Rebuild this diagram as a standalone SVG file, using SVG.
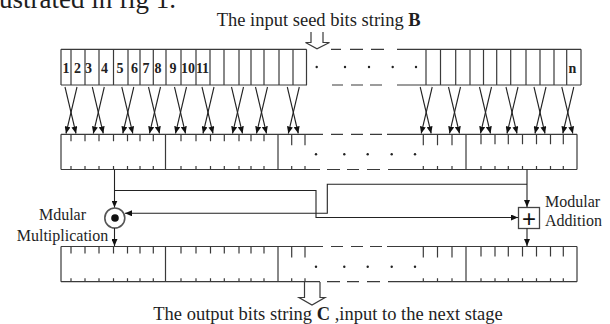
<svg xmlns="http://www.w3.org/2000/svg" width="610" height="324" viewBox="0 0 610 324">
<defs>
<marker id="ah" markerWidth="7" markerHeight="6" refX="7" refY="3" orient="auto" markerUnits="userSpaceOnUse"><path d="M0,0 L7,3 L0,6 z" fill="#111"/></marker>
<style>
.ln{stroke:#3a3a3a;stroke-width:1.2;fill:none}
.cn{stroke:#222;stroke-width:1.1;fill:none}
.ar{marker-end:url(#ah)}
.t{font-family:"Liberation Serif","Times New Roman",serif;fill:#1e1e1e}
.num{font-family:"Liberation Serif","Times New Roman",serif;font-weight:bold;font-size:14px;fill:#222;text-anchor:middle}
.dot{fill:#222}
</style>
</defs>
<rect width="610" height="324" fill="#fff"/>
<text class="t" x="176" y="7.5" font-size="27" text-anchor="end">ustrated in fig 1.</text>

<g id="input-label">
<text class="t" x="216.7" y="26" font-size="18.5">The input seed bits string <tspan font-weight="bold">B</tspan></text>
<path class="ln" d="M311,32 V42.5 H305.5 L317,48.8 L329.5,42.5 H323 V32"/>
</g>

<g id="row-input">
<path class="ln" d="M61,49.3 H306.5 M331,49.3 H341 M350,49.3 H363 M371,49.3 H384 M397,49.3 H581 M61,85 H307 M332,85 H343 M351,85 H363 M370,85 H382 M397,85 H581 M61,49.3 V85 M581,49.3 V85"/>
<path class="ln" d="M71,49.3V85 M85,49.3V85 M99,49.3V85 M113.5,49.3V85 M128,49.3V85 M140,49.3V85 M153.3,49.3V85 M166,49.3V85 M181,49.3V85 M196,49.3V85 M210,49.3V85 M224,49.3V85 M239,49.3V85 M251,49.3V85 M264,49.3V85 M279,49.3V85 M293,49.3V85 M306.5,49.3V85 M426,49.3V85 M440.5,49.3V85 M455.7,49.3V85 M470,49.3V85 M483.5,49.3V85 M496.7,49.3V85 M510.7,49.3V85 M526,49.3V85 M540,49.3V85 M554,49.3V85 M566.7,49.3V85"/>
<text class="num" x="66" y="73">1</text>
<text class="num" x="77.5" y="73">2</text>
<text class="num" x="88.5" y="73">3</text>
<text class="num" x="104.5" y="73">4</text>
<text class="num" x="120" y="73">5</text>
<text class="num" x="134.5" y="73">6</text>
<text class="num" x="146" y="73">7</text>
<text class="num" x="158" y="73">8</text>
<text class="num" x="173" y="73">9</text>
<text class="num" x="188" y="73">10</text>
<text class="num" x="202.5" y="73">11</text>
<text class="num" x="572.5" y="73">n</text>
<circle class="dot" cx="316.7" cy="67" r="1.2"/><circle class="dot" cx="345" cy="67" r="1.2"/><circle class="dot" cx="369" cy="67" r="1.2"/><circle class="dot" cx="392.7" cy="67" r="1.2"/><circle class="dot" cx="416" cy="67" r="1.2"/>
</g>

<g id="row-permuted">
<path class="ln" d="M61,134.3 H323 M331,134.3 H343 M351,134.3 H363 M370,134.3 H382 M387,134.3 H577 M61,169.5 H320 M327,169.5 H340 M347,169.5 H359 M367,169.5 H380 M388,169.5 H577 M61,134.3 V169.5 M577,134.3 V169.5 M165.5,134.3 V169.5 M278,134.3 V169.5 M466,134.3 V169.5"/>
<path class="ln" d="M71,134.3v7 M85,134.3v7 M99,134.3v7 M113.5,134.3v7 M127.5,134.3v7 M140,134.3v7 M153.3,134.3v7 M181,134.3v7 M196,134.3v7 M210.5,134.3v7 M224.3,134.3v7 M239,134.3v7 M251,134.3v7 M264,134.3v7 M291.7,134.3v11 M305,134.3v11 M423.3,134.3v11 M437.5,134.3v11 M452,134.3v11 M481,134.3v10 M495,134.3v10 M508.3,134.3v10 M522.5,134.3v10 M536.5,134.3v10 M550.5,134.3v10 M563.3,134.3v10"/>
<path class="ln" d="M71,169.5v-3.5 M85,169.5v-3.5 M99,169.5v-3.5 M113.5,169.5v-3.5 M127.5,169.5v-3.5 M140,169.5v-3.5 M153.3,169.5v-3.5 M181,169.5v-3.5 M196,169.5v-3.5 M210.5,169.5v-3.5 M224.3,169.5v-3.5 M239,169.5v-3.5 M251,169.5v-3.5 M264,169.5v-3.5 M291.7,169.5v-3.5 M305,169.5v-3.5 M423.3,169.5v-3.5 M437.5,169.5v-3.5 M452,169.5v-3.5 M481,169.5v-3.5 M495,169.5v-3.5 M508.3,169.5v-3.5 M522.5,169.5v-3.5 M536.5,169.5v-3.5 M550.5,169.5v-3.5 M563.3,169.5v-3.5"/>
<circle class="dot" cx="316" cy="154.3" r="1.2"/><circle class="dot" cx="344.3" cy="154.3" r="1.2"/><circle class="dot" cx="367.7" cy="154.3" r="1.2"/><circle class="dot" cx="391.7" cy="154.3" r="1.2"/><circle class="dot" cx="415" cy="154.3" r="1.2"/>
</g>

<g id="row-output">
<path class="ln" d="M61,246.5 H323 M331,246.5 H343 M351,246.5 H363 M370,246.5 H382 M387,246.5 H577 M61,281.7 H320 M327,281.7 H340 M347,281.7 H359 M367,281.7 H380 M388,281.7 H577 M61,246.5 V281.7 M577,246.5 V281.7 M165.5,246.5 V281.7 M278,246.5 V281.7 M466,246.5 V281.7"/>
<path class="ln" d="M71,246.5v7 M85,246.5v7 M99,246.5v7 M113.5,246.5v7 M127.5,246.5v7 M140,246.5v7 M153.3,246.5v7 M181,246.5v7 M196,246.5v7 M210.5,246.5v7 M224.3,246.5v7 M239,246.5v7 M251,246.5v7 M264,246.5v7 M291.7,246.5v11 M305,246.5v11 M423.3,246.5v11 M437.5,246.5v11 M452,246.5v11 M481,246.5v10 M495,246.5v10 M508.3,246.5v10 M522.5,246.5v10 M536.5,246.5v10 M550.5,246.5v10 M563.3,246.5v10"/>
<path class="ln" d="M71,281.7v-3.5 M85,281.7v-3.5 M99,281.7v-3.5 M113.5,281.7v-3.5 M127.5,281.7v-3.5 M140,281.7v-3.5 M153.3,281.7v-3.5 M181,281.7v-3.5 M196,281.7v-3.5 M210.5,281.7v-3.5 M224.3,281.7v-3.5 M239,281.7v-3.5 M251,281.7v-3.5 M264,281.7v-3.5 M291.7,281.7v-3.5 M305,281.7v-3.5 M423.3,281.7v-3.5 M437.5,281.7v-3.5 M452,281.7v-3.5 M481,281.7v-3.5 M495,281.7v-3.5 M508.3,281.7v-3.5 M522.5,281.7v-3.5 M536.5,281.7v-3.5 M550.5,281.7v-3.5 M563.3,281.7v-3.5"/>
<circle class="dot" cx="316" cy="266.7" r="1.2"/><circle class="dot" cx="344.3" cy="266.7" r="1.2"/><circle class="dot" cx="367.7" cy="266.7" r="1.2"/><circle class="dot" cx="391.7" cy="266.7" r="1.2"/><circle class="dot" cx="415" cy="266.7" r="1.2"/>
</g>

<g id="mult">
<circle cx="114.8" cy="218" r="10" fill="#fff" stroke="#555" stroke-width="1.6"/>
<circle cx="115" cy="218" r="3.8" fill="#111"/>
<text class="t" x="62.5" y="219.5" font-size="16" text-anchor="middle">Mdular</text>
<text class="t" x="62.5" y="240.5" font-size="16" text-anchor="middle">Multiplication</text>
</g>

<g id="add">
<rect x="518.5" y="207.5" width="21" height="21" fill="#fff" stroke="#444" stroke-width="1.3"/>
<text x="529" y="227" font-family="Liberation Sans, Arial, sans-serif" font-size="24" text-anchor="middle" fill="#111">+</text>
<text class="t" x="545" y="207" font-size="16">Modular</text>
<text class="t" x="545" y="226" font-size="16">Addition</text>
</g>

<g id="output-label">
<path class="ln" d="M304.5,282 V297.5 H299 L312,305 L325,297.5 H320 V282"/>
<text class="t" x="153.3" y="319.5" font-size="18.5">The output bits string <tspan font-weight="bold">C</tspan> ,input to the next stage</text>
</g>

<g id="connectors">
<path class="cn ar" d="M65,87 L76,133.5"/><path class="cn ar" d="M77,87 L66,133.5"/>
<path class="cn ar" d="M92.3,87 L103.3,133.5"/><path class="cn ar" d="M104.3,87 L93.3,133.5"/>
<path class="cn ar" d="M121.8,87 L132.8,133.5"/><path class="cn ar" d="M133.8,87 L122.8,133.5"/>
<path class="cn ar" d="M148.5,87 L159.5,133.5"/><path class="cn ar" d="M160.5,87 L149.5,133.5"/>
<path class="cn ar" d="M174.5,87 L185.5,133.5"/><path class="cn ar" d="M186.5,87 L175.5,133.5"/>
<path class="cn ar" d="M202,87 L213,133.5"/><path class="cn ar" d="M214,87 L203,133.5"/>
<path class="cn ar" d="M231.5,87 L242.5,133.5"/><path class="cn ar" d="M243.5,87 L232.5,133.5"/>
<path class="cn ar" d="M255.5,87 L266.5,133.5"/><path class="cn ar" d="M267.5,87 L256.5,133.5"/>
<path class="cn ar" d="M287.3,87 L298.3,133.5"/><path class="cn ar" d="M299.3,87 L288.3,133.5"/>
<path class="cn ar" d="M420.2,87 L431.2,133.5"/><path class="cn ar" d="M432.2,87 L421.2,133.5"/>
<path class="cn ar" d="M448.5,87 L459.5,133.5"/><path class="cn ar" d="M460.5,87 L449.5,133.5"/>
<path class="cn ar" d="M479.5,87 L490.5,133.5"/><path class="cn ar" d="M491.5,87 L480.5,133.5"/>
<path class="cn ar" d="M506,87 L517,133.5"/><path class="cn ar" d="M518,87 L507,133.5"/>
<path class="cn ar" d="M534,87 L545,133.5"/><path class="cn ar" d="M546,87 L535,133.5"/>
<path class="cn ar" d="M561.8,87 L572.8,133.5"/><path class="cn ar" d="M573.8,87 L562.8,133.5"/>
<path class="cn ar" d="M114.5,169.5 V207.5"/>
<path class="cn ar" d="M114.5,190.5 H316 V217.5 H518"/>
<path class="cn ar" d="M527,169.5 V207"/>
<path class="cn ar" d="M527,184.3 H327.3 V213.3 H125"/>
<path class="cn ar" d="M114.5,228 V246"/>
<path class="cn ar" d="M527,228.5 V246"/>
</g>
</svg>
